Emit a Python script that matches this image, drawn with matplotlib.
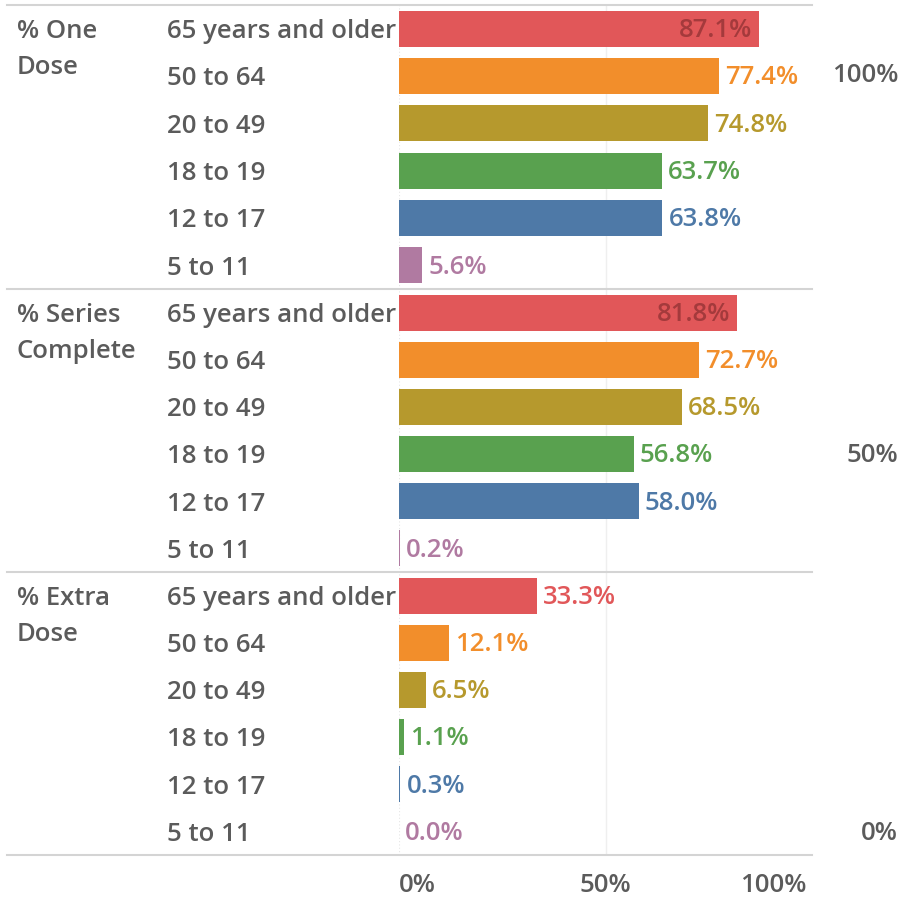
import matplotlib
matplotlib.use("Agg")
import matplotlib.pyplot as plt
from matplotlib.lines import Line2D
from matplotlib.transforms import blended_transform_factory

# data
groups = ["% One\nDose", "% Series\nComplete", "% Extra\nDose"]
ages = ["65 years and older", "50 to 64", "20 to 49", "18 to 19", "12 to 17", "5 to 11"]
one_dose = [87.1, 77.4, 74.8, 63.7, 63.8, 5.6]
series_complete = [81.8, 72.7, 68.5, 56.8, 58.0, 0.2]
extra_dose = [33.3, 12.1, 6.5, 1.1, 0.3, 0.0]
colors = ["#e15759", "#f28e2b", "#b6992d", "#59a14f", "#4e79a7", "#b07aa1"]
x_ticks = [0, 50, 100]
x_tick_labels = ["0%", "50%", "100%"]
side_labels = ["100%", "50%", "0%"]

W, H = 904, 902
TXT = "#5b5b5b"
FS = 18.5
WT = "semibold"
plt.rcParams["font.family"] = ["Open Sans", "DejaVu Sans"]

fig = plt.figure(figsize=(W / 100, H / 100), dpi=100)

x0, x1 = 399, 812
bounds = [(5, 289), (289, 572), (572, 855)]
series = [one_dose, series_complete, extra_dose]

for (top, bot), title, vals in zip(bounds, groups, series):
    ax = fig.add_axes([x0 / W, 1 - bot / H, (x1 - x0) / W, (bot - top) / H])
    ax.set_xlim(0, 100)
    ax.set_ylim(5.5, -0.5)
    ax.axis("off")
    ax.axvline(50, color="#efefef", lw=1, zorder=0)
    ax.axvline(0, color="#e6e6e6", lw=0.8, ls=(0, (1, 2)), zorder=0)
    ax.barh(range(len(vals)), vals, height=0.76, color=colors, zorder=2)
    for i, (v, c) in enumerate(zip(vals, colors)):
        if v > 80:
            ax.annotate(f"{v:.1f}%", (v, i + 0.04), xytext=(-5, 0), textcoords="offset points",
                        ha="right", va="center", fontsize=FS, fontweight=WT,
                        color="#a43a3c", zorder=3)
        else:
            ax.annotate(f"{v:.1f}%", (v, i + 0.04), xytext=(4.5, 0), textcoords="offset points",
                        ha="left", va="center", fontsize=FS, fontweight=WT,
                        color=c, zorder=3)
    tr = blended_transform_factory(fig.transFigure, ax.transData)
    for i, a in enumerate(ages):
        ax.text(167 / W, i + 0.06, a, transform=tr, ha="left", va="center",
                fontsize=FS, fontweight=WT, color=TXT, clip_on=False)
    fig.text(17 / W, 1 - (top + 14) / H, title, ha="left", va="top",
             fontsize=FS, fontweight=WT, color=TXT, linespacing=1.58)
    if top == 572:
        for t, lab in zip(x_ticks, x_tick_labels):
            ha = "left" if t == 0 else ("right" if t == 100 else "center")
            ax.annotate(lab, (t, 6.15), xytext=(-4 if t == 100 else 0, 0),
                        textcoords="offset points", ha=ha, va="center",
                        fontsize=FS, fontweight=WT, color=TXT, annotation_clip=False)

# separators
for y in [5, 289, 572, 855]:
    fig.add_artist(Line2D([7 / W, x1 / W], [1 - y / H, 1 - y / H],
                          color="#d4d4d4", lw=1.5))

# right side labels
for lab, y in zip(side_labels, [76, 456, 833]):
    fig.text(898 / W, 1 - y / H, lab, ha="right", va="center", fontsize=FS,
             fontweight=WT, color=TXT)

fig.savefig("out.png", dpi=100, facecolor="white")
